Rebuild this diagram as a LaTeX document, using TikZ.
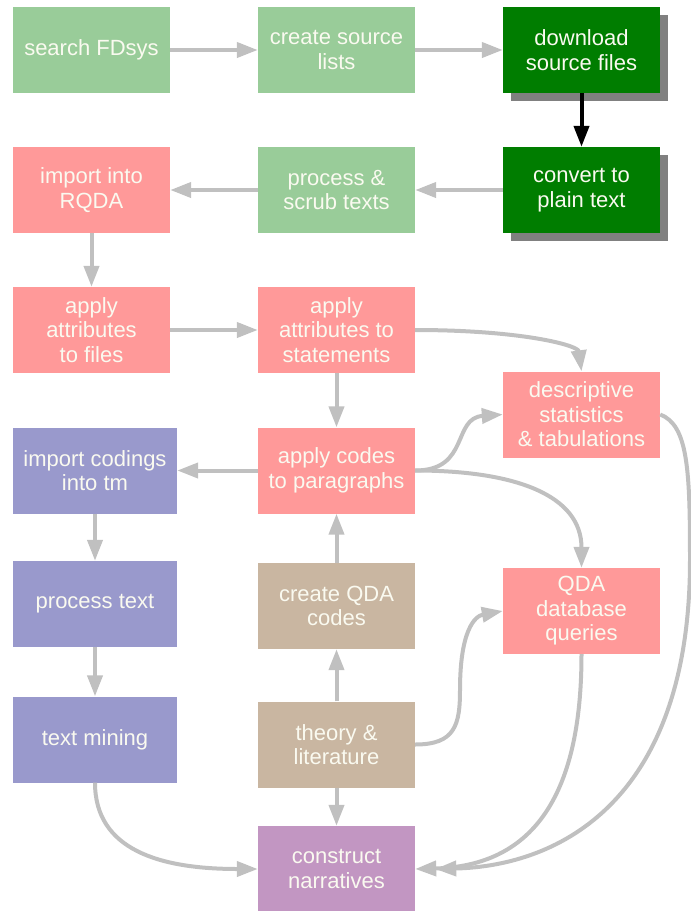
\documentclass[tikz,border=0pt]{standalone}
\usepackage{fontspec}
\setmainfont{Liberation Sans}
\usetikzlibrary{arrows.meta,shadows}
\definecolor{lgreen}{RGB}{153,204,153}
\definecolor{dgreen}{RGB}{0,125,0}
\definecolor{pinkbox}{RGB}{255,153,153}
\definecolor{bluebox}{RGB}{153,153,204}
\definecolor{tanbox}{RGB}{201,182,161}
\definecolor{mauvebox}{RGB}{194,150,194}
\definecolor{linkgray}{RGB}{192,192,192}
\definecolor{boxtext}{RGB}{250,250,240}

\begin{document}
\begin{tikzpicture}[x=1pt,y=1pt,
  box/.style={rectangle, minimum width=157pt, minimum height=86pt, inner sep=0pt,
    align=center, text=boxtext, font=\fontsize{22}{24.5}\selectfont},
  wide/.style={minimum width=164pt},
  shade/.style={drop shadow={shadow xshift=8pt, shadow yshift=-8pt, fill=black!50, opacity=1}},
  link/.style={draw=linkgray, line width=4pt, -{Triangle[length=21pt,width=15pt]}},
  key/.style={draw=black, line width=4pt, -{Triangle[length=21pt,width=15pt]}}]
\useasboundingbox (0,0) rectangle (691,-911);

% acquisition and preparation
\node[box, fill=lgreen] (search) at (91.5,-50) {search FDsys};
\node[box, fill=lgreen] (create) at (336.5,-50) {create source\\lists};
\node[box, fill=dgreen, shade] (download) at (581.5,-50) {download\\source files};
\node[box, fill=pinkbox] (rqda) at (91.5,-190) {import into\\RQDA};
\node[box, fill=lgreen] (scrub) at (336.5,-190) {process \&\\scrub texts};
\node[box, fill=dgreen, shade] (convert) at (581.5,-190) {convert to\\plain text};

% qualitative coding
\node[box, fill=pinkbox] (files) at (91.5,-330) {apply\\attributes\\to files};
\node[box, fill=pinkbox] (stmts) at (336.5,-330) {apply\\attributes to\\statements};
\node[box, fill=pinkbox] (desc) at (581.5,-414.5) {descriptive\\statistics\\\& tabulations};
\node[box, fill=pinkbox] (codes) at (336.5,-470.5) {apply codes\\to paragraphs};
\node[box, fill=pinkbox] (qda) at (581.5,-611) {QDA\\database\\queries};
\node[box, fill=tanbox] (cqda) at (336.5,-606) {create QDA\\codes};
\node[box, fill=tanbox] (theory) at (336.5,-744.5) {theory \&\\literature};

% text mining
\node[box, wide, fill=bluebox] (tm) at (95,-470.5) {import codings\\into tm};
\node[box, wide, fill=bluebox] (proc) at (95,-604) {process text};
\node[box, wide, fill=bluebox] (mining) at (95,-739.5) {text mining};

% synthesis
\node[box, fill=mauvebox] (narr) at (336.5,-869) {construct\\narratives};

% straight connectors
\draw[link] (search) -- (create);
\draw[link] (create) -- (download);
\draw[key] (download) -- (convert);
\draw[link] (convert) -- (scrub);
\draw[link] (scrub) -- (rqda);
\draw[link] (rqda) -- (files);
\draw[link] (files) -- (stmts);
\draw[link] (stmts) -- (codes);
\draw[link] (codes) -- (tm);
\draw[link] (tm) -- (proc);
\draw[link] (proc) -- (mining);
\draw[link] (cqda) -- (codes);
\draw[link] (theory) -- (cqda);
\draw[link] (theory) -- (narr);

% curved connectors
\draw[link] (stmts.east) .. controls (520,-330) and (578,-345) .. (desc.north);
\draw[link] (codes.east) .. controls (470,-470.5) and (452,-418) .. (desc.west);
\draw[link] (codes.east) .. controls (515,-470.5) and (581.5,-495) .. (qda.north);
\draw[link] (theory.east) .. controls (455,-744.5) and (460,-725) .. (460,-690)
  .. controls (460,-630) and (475,-616) .. (qda.west);
\draw[link] (mining.south) .. controls (95,-850) and (160,-869) .. (narr.west);
\draw[link] (qda.south) .. controls (581.5,-800) and (530,-866) .. (narr.east);
\draw[link] (desc.east) .. controls (688,-425) and (690,-470) .. (690,-560)
  .. controls (690,-800) and (560,-866) .. ([xshift=20pt]narr.east);
\end{tikzpicture}
\end{document}
